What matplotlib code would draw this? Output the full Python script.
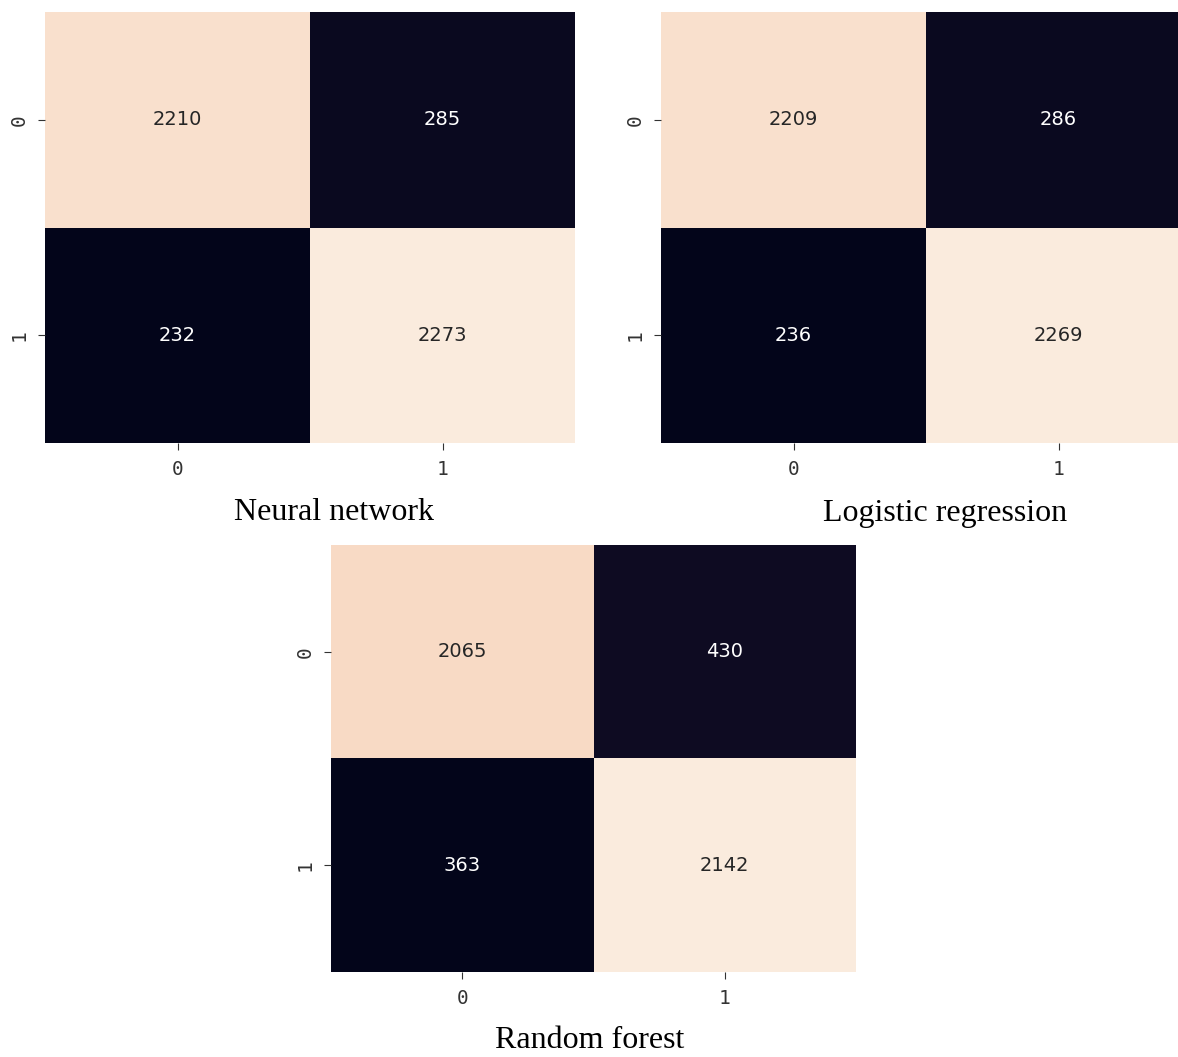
import numpy as np
import matplotlib
matplotlib.use("Agg")
import matplotlib.pyplot as plt
import seaborn as sns

# confusion matrices
nn_cm = [[2210, 285], [232, 2273]]
lr_cm = [[2209, 286], [236, 2269]]
rf_cm = [[2065, 430], [363, 2142]]
labels = ["0", "1"]
titles = ["Neural network", "Logistic regression", "Random forest"]

W, H = 1178, 1057
fig = plt.figure(figsize=(W / 100, H / 100), dpi=100)


def px_axes(left, top, right, bottom):
    return fig.add_axes([left / W, 1 - bottom / H, (right - left) / W, (bottom - top) / H])


def draw_cm(ax, cm):
    sns.heatmap(np.array(cm), annot=True, fmt="d", cbar=False, ax=ax,
                annot_kws={"fontsize": 14})
    ax.set_xticklabels(labels, fontfamily="DejaVu Sans Mono", fontsize=14, color="#333333")
    ax.set_yticklabels(labels, fontfamily="DejaVu Sans Mono", fontsize=14, rotation=90,
                       va="center", color="#333333")
    ax.tick_params(length=5, color="#333333", pad=7)


ax1 = px_axes(45, 12, 575, 443)
draw_cm(ax1, nn_cm)
ax2 = px_axes(661, 12, 1191, 443)
draw_cm(ax2, lr_cm)
ax3 = px_axes(331, 545, 856, 972)
draw_cm(ax3, rf_cm)

cap = dict(fontfamily="Liberation Serif", fontsize=23, ha="center", va="center")
fig.text(334 / W, 1 - 513 / H, titles[0], **cap)
fig.text(945 / W, 1 - 513 / H, titles[1], **cap)
fig.text(590 / W, 1 - 1040 / H, titles[2], **cap)

fig.savefig("out.png", dpi=100)
